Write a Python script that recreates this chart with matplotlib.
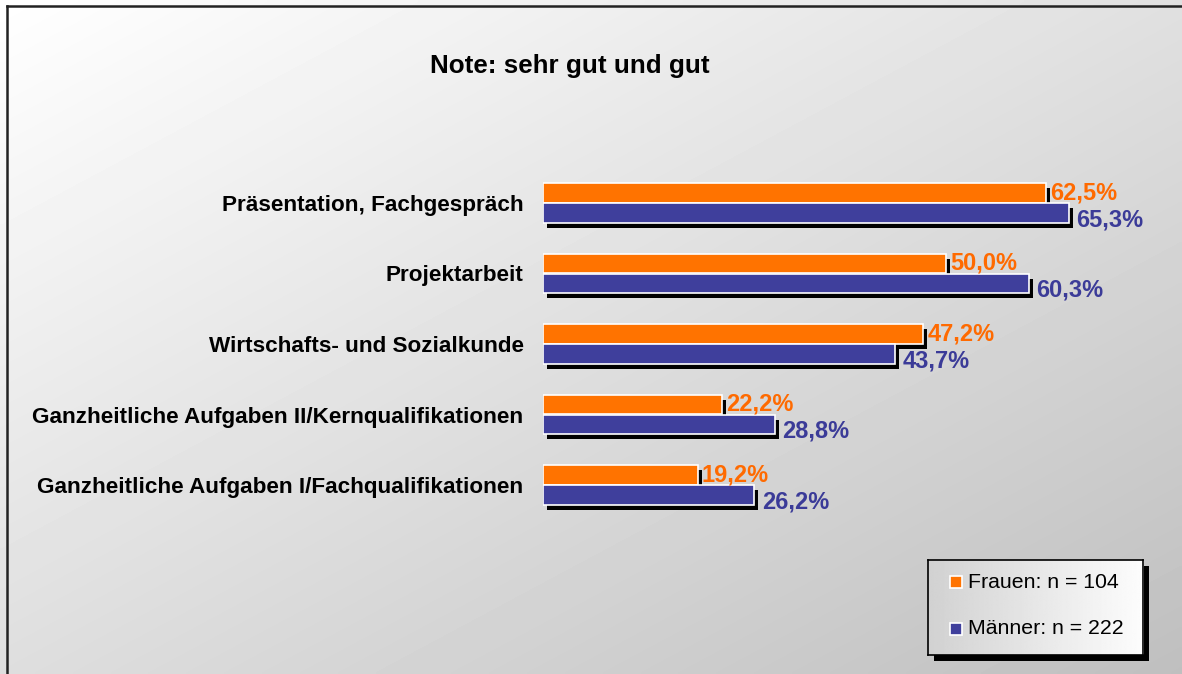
import numpy as np
import matplotlib
matplotlib.use('Agg')
import matplotlib.pyplot as plt
from matplotlib.patches import Rectangle
from matplotlib.lines import Line2D

# --- data ---
categories = [
    'Präsentation, Fachgespräch',
    'Projektarbeit',
    'Wirtschafts- und Sozialkunde',
    'Ganzheitliche Aufgaben II/Kernqualifikationen',
    'Ganzheitliche Aufgaben I/Fachqualifikationen',
]
frauen = [62.5, 50.0, 47.2, 22.2, 19.2]
maenner = [65.3, 60.3, 43.7, 28.8, 26.2]
legend_labels = ['Frauen: n = 104', 'Männer: n = 222']
title = 'Note: sehr gut und gut'

orange = '#ff7300'
orange_txt = '#ff6a00'
blue = '#3f3f9c'
blue_txt = '#3b3b98'

plt.rcParams['font.family'] = ['Liberation Sans', 'DejaVu Sans']

W, H = 1182, 674
fig = plt.figure(figsize=(W / 100, H / 100), dpi=100)

def fx(px):
    return px / W

def fy(py):
    return 1 - py / H

# --- gradient background ---
bg = fig.add_axes([0, 0, 1, 1], zorder=0)
gx, gy = np.meshgrid(np.linspace(0, 1, 300), np.linspace(0, 1, 200))
shade = (255 - 31 * gx - 33 * gy) / 255
bg.imshow(shade, cmap='gray', vmin=0, vmax=1, aspect='auto',
          extent=[0, 1, 1, 0], interpolation='bilinear')
bg.set_xlim(0, 1)
bg.set_ylim(1, 0)
bg.axis('off')
fig.add_artist(Line2D([fx(7), fx(7)], [0, fy(6)], color='#222222', lw=1.8))
fig.add_artist(Line2D([fx(7), 1], [fy(6), fy(6)], color='#222222', lw=1.8))

fig.text(fx(570), fy(66), title, ha='center', va='center',
         fontsize=18.7, fontweight='bold', color='black')

# --- bars ---
x_left, x_right = 543, 1147
xmax = 75.0
y_top, y_bot = 167.75, 520.25
ax = fig.add_axes([fx(x_left), fy(y_bot), fx(x_right - x_left),
                   (y_bot - y_top) / H], zorder=1)
ax.patch.set_alpha(0)

pos = np.arange(len(categories))
h = 0.27
off = 0.142
dx = 4 * xmax / (x_right - x_left)
dy = 5 / 70.5

for vals, sign, col in [(frauen, -1, orange), (maenner, 1, blue)]:
    ax.barh(pos + sign * off + dy, vals, left=dx, height=h,
            color='black', zorder=1)
for vals, sign, col in [(frauen, -1, orange), (maenner, 1, blue)]:
    ax.barh(pos + sign * off, vals, height=h, color=col,
            edgecolor='white', linewidth=1.2, zorder=2)

for i in range(len(categories)):
    ax.annotate(f'{frauen[i]:.1f}%'.replace('.', ','),
                (frauen[i], pos[i] - off), xytext=(3, 0),
                textcoords='offset points', ha='left', va='center',
                fontsize=17, fontweight='bold', color=orange_txt, zorder=3)
    ax.annotate(f'{maenner[i]:.1f}%'.replace('.', ','),
                (maenner[i], pos[i] + off), xytext=(5.5, -5),
                textcoords='offset points', ha='left', va='center',
                fontsize=17, fontweight='bold', color=blue_txt, zorder=3)

ax.set_xlim(0, xmax)
ax.set_ylim(len(categories) - 0.5, -0.5)
ax.set_yticks(pos)
ax.set_yticklabels(categories, fontsize=16.2, fontweight='bold')
ax.tick_params(axis='y', length=0, pad=14)
ax.set_xticks([])
for s in ax.spines.values():
    s.set_visible(False)

# --- legend box ---
lx0, ly0, lx1, ly1 = 928, 560, 1143, 655
fig.add_artist(Rectangle((fx(lx0 + 6), fy(ly1 + 6)), fx(lx1 - lx0), (ly1 - ly0) / H,
                         transform=fig.transFigure, facecolor='black',
                         edgecolor='none', zorder=4))
lg = fig.add_axes([fx(lx0), fy(ly1), fx(lx1 - lx0), (ly1 - ly0) / H], zorder=5)
lgrad = np.linspace(0.82, 0.99, 200)[None, :]
lg.imshow(lgrad, cmap='gray', vmin=0, vmax=1, aspect='auto',
          extent=[0, 1, 0, 1], interpolation='bilinear')
lg.set_xlim(0, 1)
lg.set_ylim(1, 0)
lg.set_xticks([])
lg.set_yticks([])
for s in lg.spines.values():
    s.set_color('black')
    s.set_linewidth(1.2)

box_w, box_h = lx1 - lx0, ly1 - ly0
for j, (lab, col) in enumerate(zip(legend_labels, [orange, blue])):
    cy = (22 + j * 47) / box_h
    sq = 12
    lg.add_patch(Rectangle(((28 - sq / 2) / box_w, cy - sq / 2 / box_h),
                           sq / box_w, sq / box_h, facecolor=col,
                           edgecolor='white', linewidth=1.2))
    lg.text(40 / box_w, cy, lab, ha='left', va='center', fontsize=15.3,
            color='black')

fig.savefig('out.png', dpi=100)
